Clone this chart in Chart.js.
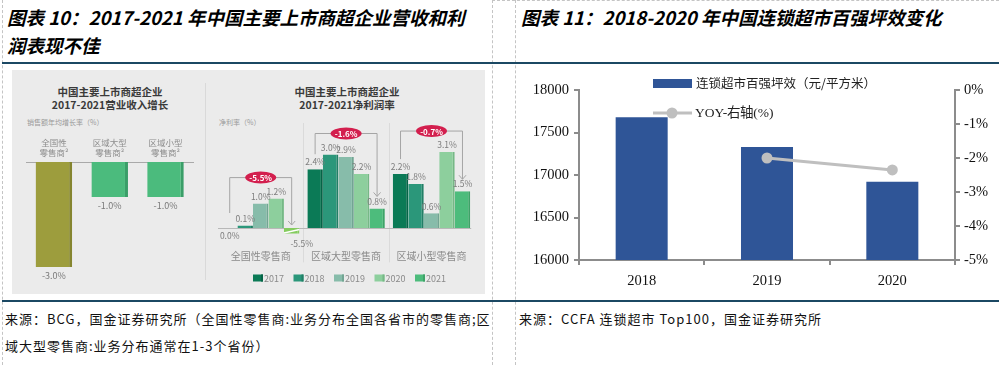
<!DOCTYPE html>
<html lang="zh-CN">
<head>
<meta charset="utf-8">
<script src="https://cdn.jsdelivr.net/npm/chart.js@4.4.1/dist/chart.umd.min.js"></script>
<style>
  html, body { margin: 0; padding: 0; background: #fff; }
  body { width: 999px; height: 365px; position: relative; overflow: hidden; font-family: "Noto Sans CJK SC", sans-serif; }
  .abs { position: absolute; }
  .title { font-weight: 700; font-style: italic; font-size: 18.5px; color: #000; white-space: nowrap; line-height: 28px; }
  .src { font-size: 13px; letter-spacing: 1px; color: #111; white-space: nowrap; line-height: 27px; }
  .vdash { border-left: 1px dashed #c4c4c4; top: 0; height: 365px; width: 0; }
  .hline { height: 2px; background: #1b4863; left: 2px; width: 997px; }
  .panel { left: 12px; top: 70px; width: 473px; height: 224px; background: #ebebeb; }
  .h { font-weight: 700; font-size: 10.5px; color: #3a3a3a; text-align: center; line-height: 13px; white-space: nowrap; width: 180px; }
  .sub { font-size: 7px; color: #9a9a9a; white-space: nowrap; }
</style>
</head>
<body>
<div class="abs vdash" style="left:2px"></div>
<div class="abs vdash" style="left:492px"></div>
<div class="abs vdash" style="left:515px"></div>
<div class="abs" style="left:492px;top:0;width:507px;border-top:1px dashed #c4c4c4"></div>

<div class="abs title" style="left:7px;top:3px">图表 10：2017-2021 年中国主要上市商超企业营收和利<br>润表现不佳</div>
<div class="abs title" style="left:521px;top:3px">图表 11：2018-2020 年中国连锁超市百强坪效变化</div>
<div class="abs hline" style="top:62px"></div>
<div class="abs hline" style="top:300px"></div>

<div class="abs panel"></div>
<div class="abs" style="left:205px;top:83px;width:1px;height:197px;background:#d9d9d9"></div>
<div class="abs h" style="left:20px;top:84.5px">中国主要上市商超企业<br>2017-2021营业收入增长</div>
<div class="abs h" style="left:257px;top:84.5px">中国主要上市商超企业<br>2017-2021净利润率</div>
<div class="abs sub" style="left:27px;top:117px">销售额年均增长率（%）</div>
<div class="abs sub" style="left:219px;top:117px">净利率（%）</div>

<canvas id="revChart" class="abs" style="left:20px;top:110px" width="185" height="180"></canvas>
<canvas id="marginChart" class="abs" style="left:210px;top:110px" width="275" height="180"></canvas>
<canvas id="effChart" class="abs" style="left:516px;top:66px" width="483" height="226"></canvas>

<div class="abs src" style="left:5px;top:304.5px">来源：BCG，国金证券研究所（全国性零售商:业务分布全国各省市的零售商;区<br>域大型零售商:业务分布通常在1-3个省份）</div>
<div class="abs src" style="left:519px;top:304.5px">来源：CCFA 连锁超市 Top100，国金证券研究所</div>

<script>
// 左图：营业收入年均增长
const revCats = [['全国性', '零售商²'], ['区域大型', '零售商²'], ['区域小型', '零售商²']];
const revGrowth = [-3.0, -1.0, -1.0];

// 左图：净利润率
const marginCats = ['全国性零售商', '区域大型零售商', '区域小型零售商'];
const marginYears = ['2017', '2018', '2019', '2020', '2021'];
const margin2017 = [0.0, 2.4, 2.2];
const margin2018 = [0.1, 3.0, 1.8];
const margin2019 = [1.0, 2.9, 0.6];
const margin2020 = [1.2, 2.2, 3.1];
const margin2021 = [-5.5, 0.8, 1.5];
const marginChange = ['-5.5%', '-1.6%', '-0.7%'];

// 右图：连锁超市百强坪效
const effYears = ['2018', '2019', '2020'];
const effValues = [17680, 17330, 16920];
const effYoy = [null, -2.0, -2.35];

const CJK = '"Noto Sans CJK SC", sans-serif';
const SERIF = '"Liberation Serif", "Times New Roman", serif';

const pct = v => v.toFixed(1) + '%';

// ---- 营业收入增长 ----
const revLabels = {
    id: 'revLabels',
    afterDatasetsDraw(chart) {
        const ctx = chart.ctx;
        ctx.save();
        ctx.font = '9px ' + CJK;
        ctx.fillStyle = '#7a7a7a';
        ctx.textAlign = 'center';
        ctx.textBaseline = 'middle';
        chart.getDatasetMeta(0).data.forEach((bar, i) => {
            ctx.fillText(pct(revGrowth[i]), bar.x, bar.y + 9);
        });
        ctx.restore();
    }
};

new Chart(document.getElementById('revChart'), {
    type: 'bar',
    data: {
        labels: revCats,
        datasets: [{
            data: revGrowth,
            backgroundColor: ['#9d9d3d', '#4bbb7d', '#4bbb7d'],
            borderColor: ['#85852f', '#3a9e68', '#3a9e68'],
            borderWidth: { top: 0, right: 3, bottom: 0, left: 0 },
            borderSkipped: false,
            barPercentage: 0.655,
            categoryPercentage: 1
        }]
    },
    options: {
        responsive: false,
        animation: false,
        devicePixelRatio: 1,
        layout: { padding: { left: 6, right: 11.6, top: 0, bottom: 12.5 } },
        plugins: { legend: { display: false }, tooltip: { enabled: false } },
        scales: {
            x: {
                position: 'top',
                grid: { display: false, drawTicks: false },
                border: { display: true, color: '#a9a9a9', width: 1 },
                ticks: { color: '#8d8d8d', font: { size: 8.5, family: CJK, lineHeight: 1.2 }, padding: 4 },
                afterFit(s) { s.height = 52; }
            },
            y: { display: false, min: -3.3, max: 0 }
        }
    },
    plugins: [revLabels]
});

// ---- 净利润率 ----
const greens = ['#0b7a56', '#2b977a', '#87bcaa', '#8dcf9d', '#4dbc7c'];
const greenEdges = ['#066447', '#227f66', '#72a593', '#76b886', '#3ea368'];
const marginSeries = [margin2017, margin2018, margin2019, margin2020, margin2021];

const marginDecor = {
    id: 'marginDecor',
    beforeDatasetsDraw(chart) {
        const { ctx, chartArea: a, scales: { x, y } } = chart;
        ctx.save();
        ctx.strokeStyle = '#dadada';
        ctx.lineWidth = 1;
        for (let i = 1; i < marginCats.length; i++) {
            const bx = Math.round((x.getPixelForValue(i - 1) + x.getPixelForValue(i)) / 2) + 0.5;
            ctx.beginPath();
            ctx.moveTo(bx, a.top - 7);
            ctx.lineTo(bx, a.bottom + 29);
            ctx.stroke();
        }
        const y0 = Math.round(y.getPixelForValue(0)) + 0.5;
        ctx.strokeStyle = '#b8b8b8';
        ctx.beginPath();
        ctx.moveTo(a.left, y0);
        ctx.lineTo(a.right - 3, y0);
        ctx.stroke();
        ctx.restore();
    },
    afterDatasetsDraw(chart) {
        const { ctx, chartArea: a, scales: { y } } = chart;
        const y0 = y.getPixelForValue(0);
        const metas = marginSeries.map((_, i) => chart.getDatasetMeta(i));
        ctx.save();

        // 数值标签 + 截断符号
        ctx.font = '8.5px ' + CJK;
        ctx.fillStyle = '#7d7d7d';
        ctx.textAlign = 'center';
        ctx.textBaseline = 'middle';
        metas.forEach((meta, d) => {
            meta.data.forEach((bar, i) => {
                const v = marginSeries[d][i];
                if (v > 0) {
                    ctx.fillText(pct(v), bar.x, bar.y - 7);
                } else {
                    const bottom = Math.min(bar.y, a.bottom);
                    const dx = v < y.min ? 10 : 0;
                    ctx.fillText(pct(v), bar.x + dx, bottom + (v < 0 ? 10 : 8));
                    if (v < y.min) {
                        ctx.save();
                        ctx.strokeStyle = '#ffffff';
                        ctx.lineWidth = 1.5;
                        ctx.beginPath();
                        ctx.moveTo(bar.x - bar.width / 2, a.bottom - 0.5);
                        ctx.lineTo(bar.x + bar.width / 2, y0 + 1.5);
                        ctx.stroke();
                        ctx.restore();
                    }
                }
            });
        });

        // 变化括号与红色标签
        marginCats.forEach((c, i) => {
            const first = metas[0].data[i];
            const last = metas[metas.length - 1].data[i];
            const vals = marginSeries.map(s => s[i]);
            const top = y.getPixelForValue(Math.max(...vals)) - 21;
            const startY = Math.min(first.y, y0) - 15;
            const vLast = marginSeries[marginSeries.length - 1][i];
            const tipY = vLast > 0 ? last.y - 12 : y0 - 3;
            ctx.strokeStyle = '#a5a5a5';
            ctx.lineWidth = 1;
            ctx.beginPath();
            ctx.moveTo(first.x, startY);
            ctx.lineTo(first.x, top);
            ctx.lineTo(last.x, top);
            ctx.lineTo(last.x, tipY);
            ctx.stroke();
            ctx.beginPath();
            ctx.moveTo(last.x - 3.5, tipY - 4);
            ctx.lineTo(last.x, tipY);
            ctx.lineTo(last.x + 3.5, tipY - 4);
            ctx.stroke();

            const cx = (first.x + last.x) / 2;
            ctx.fillStyle = '#d31f4e';
            ctx.beginPath();
            ctx.ellipse(cx, top, 15.5, 6, 0, 0, Math.PI * 2);
            ctx.fill();
            ctx.fillStyle = '#ffffff';
            ctx.font = 'bold 8px ' + CJK;
            ctx.fillText(marginChange[i], cx, top + 0.5);
        });

        // 图例
        ctx.font = '9px ' + CJK;
        ctx.textAlign = 'left';
        marginYears.forEach((yr, i) => {
            const lx = 43 + i * 40.5;
            const ly = 168;
            ctx.fillStyle = greens[i];
            ctx.fillRect(lx, ly - 3.5, 10, 7);
            ctx.fillStyle = greenEdges[i];
            ctx.fillRect(lx + 8, ly - 3.5, 2, 7);
            ctx.fillStyle = '#8a8a8a';
            ctx.fillText(yr, lx + 11, ly + 0.5);
        });
        ctx.restore();
    }
};

new Chart(document.getElementById('marginChart'), {
    type: 'bar',
    data: {
        labels: marginCats,
        datasets: marginYears.map((yr, i) => ({
            label: yr,
            data: marginSeries[i],
            backgroundColor: i === 4 ? ['#84cc5e', greens[4], greens[4]] : greens[i],
            borderColor: i === 4 ? ['#84cc5e', greenEdges[4], greenEdges[4]] : greenEdges[i],
            borderWidth: { top: 0, right: 2, bottom: 0, left: 0 },
            borderSkipped: false,
            barPercentage: 1,
            categoryPercentage: 0.907,
            clip: 0
        }))
    },
    options: {
        responsive: false,
        animation: false,
        devicePixelRatio: 1,
        layout: { padding: { left: 8, right: 9, top: 20, bottom: 0 } },
        plugins: { legend: { display: false }, tooltip: { enabled: false } },
        scales: {
            x: {
                grid: { display: false, drawTicks: false },
                border: { display: false },
                ticks: { color: '#8a8a8a', font: { size: 10, family: CJK }, padding: 17 },
                afterFit(s) { s.height = 56.6; }
            },
            y: { display: false, min: -0.22, max: 4 }
        }
    },
    plugins: [marginDecor]
});

// ---- 连锁超市百强坪效 ----
const effLegend = {
    id: 'effLegend',
    afterDraw(chart) {
        const ctx = chart.ctx;
        ctx.save();
        ctx.fillStyle = '#2f5597';
        ctx.fillRect(137, 13, 39, 9);
        ctx.fillStyle = '#222';
        ctx.textBaseline = 'middle';
        ctx.textAlign = 'left';
        ctx.font = '12.5px ' + CJK;
        ctx.fillText('连锁超市百强坪效（元/平方米）', 180, 17.5);

        ctx.strokeStyle = '#bfbfbf';
        ctx.lineWidth = 3;
        ctx.beginPath();
        ctx.moveTo(137, 47);
        ctx.lineTo(176, 47);
        ctx.stroke();
        ctx.fillStyle = '#bfbfbf';
        ctx.beginPath();
        ctx.arc(156, 47, 5.5, 0, Math.PI * 2);
        ctx.fill();
        ctx.fillStyle = '#222';
        ctx.font = '13.5px ' + SERIF;
        ctx.fillText('YOY-右轴(%)', 179, 47.5);
        ctx.restore();
    }
};

const axisGray = '#8c8c8c';
const serifTicks = { family: SERIF, size: 14.5 };

new Chart(document.getElementById('effChart'), {
    data: {
        labels: effYears,
        datasets: [
            {
                type: 'line',
                label: 'YOY-右轴(%)',
                data: effYoy,
                yAxisID: 'y1',
                borderColor: '#bfbfbf',
                borderWidth: 3,
                pointRadius: 5.5,
                pointBackgroundColor: '#bfbfbf',
                pointBorderWidth: 0,
                order: 0
            },
            {
                type: 'bar',
                label: '连锁超市百强坪效（元/平方米）',
                data: effValues,
                backgroundColor: '#2f5597',
                barPercentage: 0.415,
                categoryPercentage: 1,
                order: 1
            }
        ]
    },
    options: {
        responsive: false,
        animation: false,
        devicePixelRatio: 1,
        layout: { padding: { left: 0, right: 0, top: 24, bottom: 0 } },
        plugins: { legend: { display: false }, tooltip: { enabled: false } },
        scales: {
            x: {
                grid: { drawOnChartArea: false, tickLength: 5, color: axisGray, lineWidth: 2 },
                border: { color: axisGray, width: 2 },
                ticks: { color: '#111', font: serifTicks, padding: 7 },
                afterFit(s) { s.height = 32; }
            },
            y: {
                position: 'left',
                min: 16000,
                max: 18000,
                grid: { drawOnChartArea: false, tickLength: 5, color: axisGray, lineWidth: 2 },
                border: { color: axisGray, width: 2 },
                ticks: { stepSize: 500, color: '#111', font: serifTicks, padding: 5, callback: v => String(v) },
                afterFit(s) { s.width = 63; }
            },
            y1: {
                position: 'right',
                min: -5,
                max: 0,
                grid: { drawOnChartArea: false, tickLength: 5, color: axisGray, lineWidth: 2 },
                border: { color: axisGray, width: 2 },
                ticks: { stepSize: 1, color: '#111', font: serifTicks, padding: 4, callback: v => v + '%' },
                afterFit(s) { s.width = 44; }
            }
        }
    },
    plugins: [effLegend]
});
</script>
</body>
</html>
